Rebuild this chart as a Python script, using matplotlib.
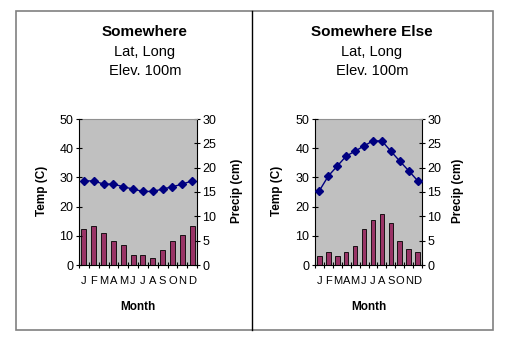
import numpy as np
import matplotlib
matplotlib.use("Agg")
import matplotlib.pyplot as plt
from matplotlib.patches import Rectangle
from matplotlib.lines import Line2D

plt.rcParams['font.family'] = ['Liberation Sans', 'DejaVu Sans']

months = ["J", "F", "M", "A", "M", "J", "J", "A", "S", "O", "N", "D"]
titles = ["Somewhere", "Somewhere Else"]
subtitles = ["Lat, Long", "Elev. 100m"]

temp_a = [28.8, 28.8, 27.7, 27.7, 26.8, 26.0, 25.2, 25.2, 26.0, 26.8, 27.7, 28.8]
precip_a = [7.3, 8.0, 6.6, 4.9, 4.2, 2.0, 2.0, 1.4, 3.0, 4.9, 6.1, 8.0]
temp_b = [25.5, 30.5, 33.9, 37.3, 39.0, 40.8, 42.5, 42.5, 39.0, 35.6, 32.3, 28.9]
precip_b = [1.9, 2.6, 1.9, 2.6, 3.9, 7.5, 9.2, 10.5, 8.6, 4.9, 3.3, 2.6]

W, H = 511, 342
fig = plt.figure(figsize=(W / 100, H / 100), dpi=100)

def fx(px):
    return px / W

def fy(py):
    return 1 - py / H

# outer frame and divider
fig.patches.append(Rectangle((fx(16), fy(330)), fx(493 - 16), (330 - 11) / H,
                             transform=fig.transFigure, fill=False,
                             edgecolor="#808080", linewidth=1.2))
fig.lines.append(Line2D([fx(252), fx(252)], [fy(11), fy(330)],
                        transform=fig.transFigure, color="black", linewidth=1))

panels = [
    dict(temp=temp_a, precip=precip_a, x0=79, x1=197, tcx=145, templ=42, precl=237),
    dict(temp=temp_b, precip=precip_b, x0=315, x1=422, tcx=372, templ=277, precl=458),
]

x = np.arange(12)
for p, title in zip(panels, titles):
    ax = fig.add_axes([fx(p["x0"]), fy(265), fx(p["x1"] - p["x0"]), (265 - 119) / H])
    ax.set_facecolor("#c0c0c0")
    ax.bar(x, p["precip"], width=0.5, color="#993366", edgecolor="black", linewidth=0.6, zorder=2)
    ax.set_ylim(0, 30)
    ax.set_yticks(np.arange(0, 31, 5))
    ax.set_xlim(-0.5, 11.5)
    ax.set_xticks(x)
    ax.set_xticklabels(months, fontsize=8)
    ax.tick_params(axis="x", length=0, pad=8)
    ax.set_xticks(np.arange(-0.5, 12, 1), minor=True)
    ax.tick_params(axis="x", which="minor", length=4, direction="inout", width=0.8)
    for s in ["left", "right", "bottom"]:
        ax.spines[s].set_color("black")
        ax.spines[s].set_linewidth(0.8)
    ax.spines["top"].set_color("#909090")
    ax.spines["top"].set_linewidth(0.8)

    ax2 = ax.twinx()
    ax2.patch.set_visible(False)
    ax2.plot(x, p["temp"], color="#000080", marker="D", markersize=4, linewidth=1, zorder=3)
    ax2.set_ylim(0, 50)
    ax2.set_yticks(np.arange(0, 51, 10))
    ax2.yaxis.tick_left()
    ax.yaxis.tick_right()
    ax.tick_params(axis="y", labelsize=9, length=4, width=0.8, direction="inout", pad=2)
    ax2.tick_params(axis="y", labelsize=9, length=4, width=0.8, direction="inout", pad=2)
    for s in ax2.spines.values():
        s.set_visible(False)

    fig.text(fx(p["tcx"]), fy(32), title, ha="center", va="center", fontsize=11, fontweight="bold")
    fig.text(fx(p["tcx"]), fy(52), subtitles[0], ha="center", va="center", fontsize=10.5)
    fig.text(fx(p["tcx"]), fy(71), subtitles[1], ha="center", va="center", fontsize=10.5)
    fig.text(fx((p["x0"] + p["x1"]) / 2), fy(307), "Month", ha="center", va="center",
             fontsize=8.5, fontweight="bold")
    fig.text(fx(p["templ"]), fy(191), "Temp (C)", ha="center", va="center", rotation=90,
             fontsize=8.5, fontweight="bold")
    fig.text(fx(p["precl"]), fy(191), "Precip (cm)", ha="center", va="center", rotation=90,
             fontsize=8.5, fontweight="bold")

fig.savefig("out.png", dpi=100)
